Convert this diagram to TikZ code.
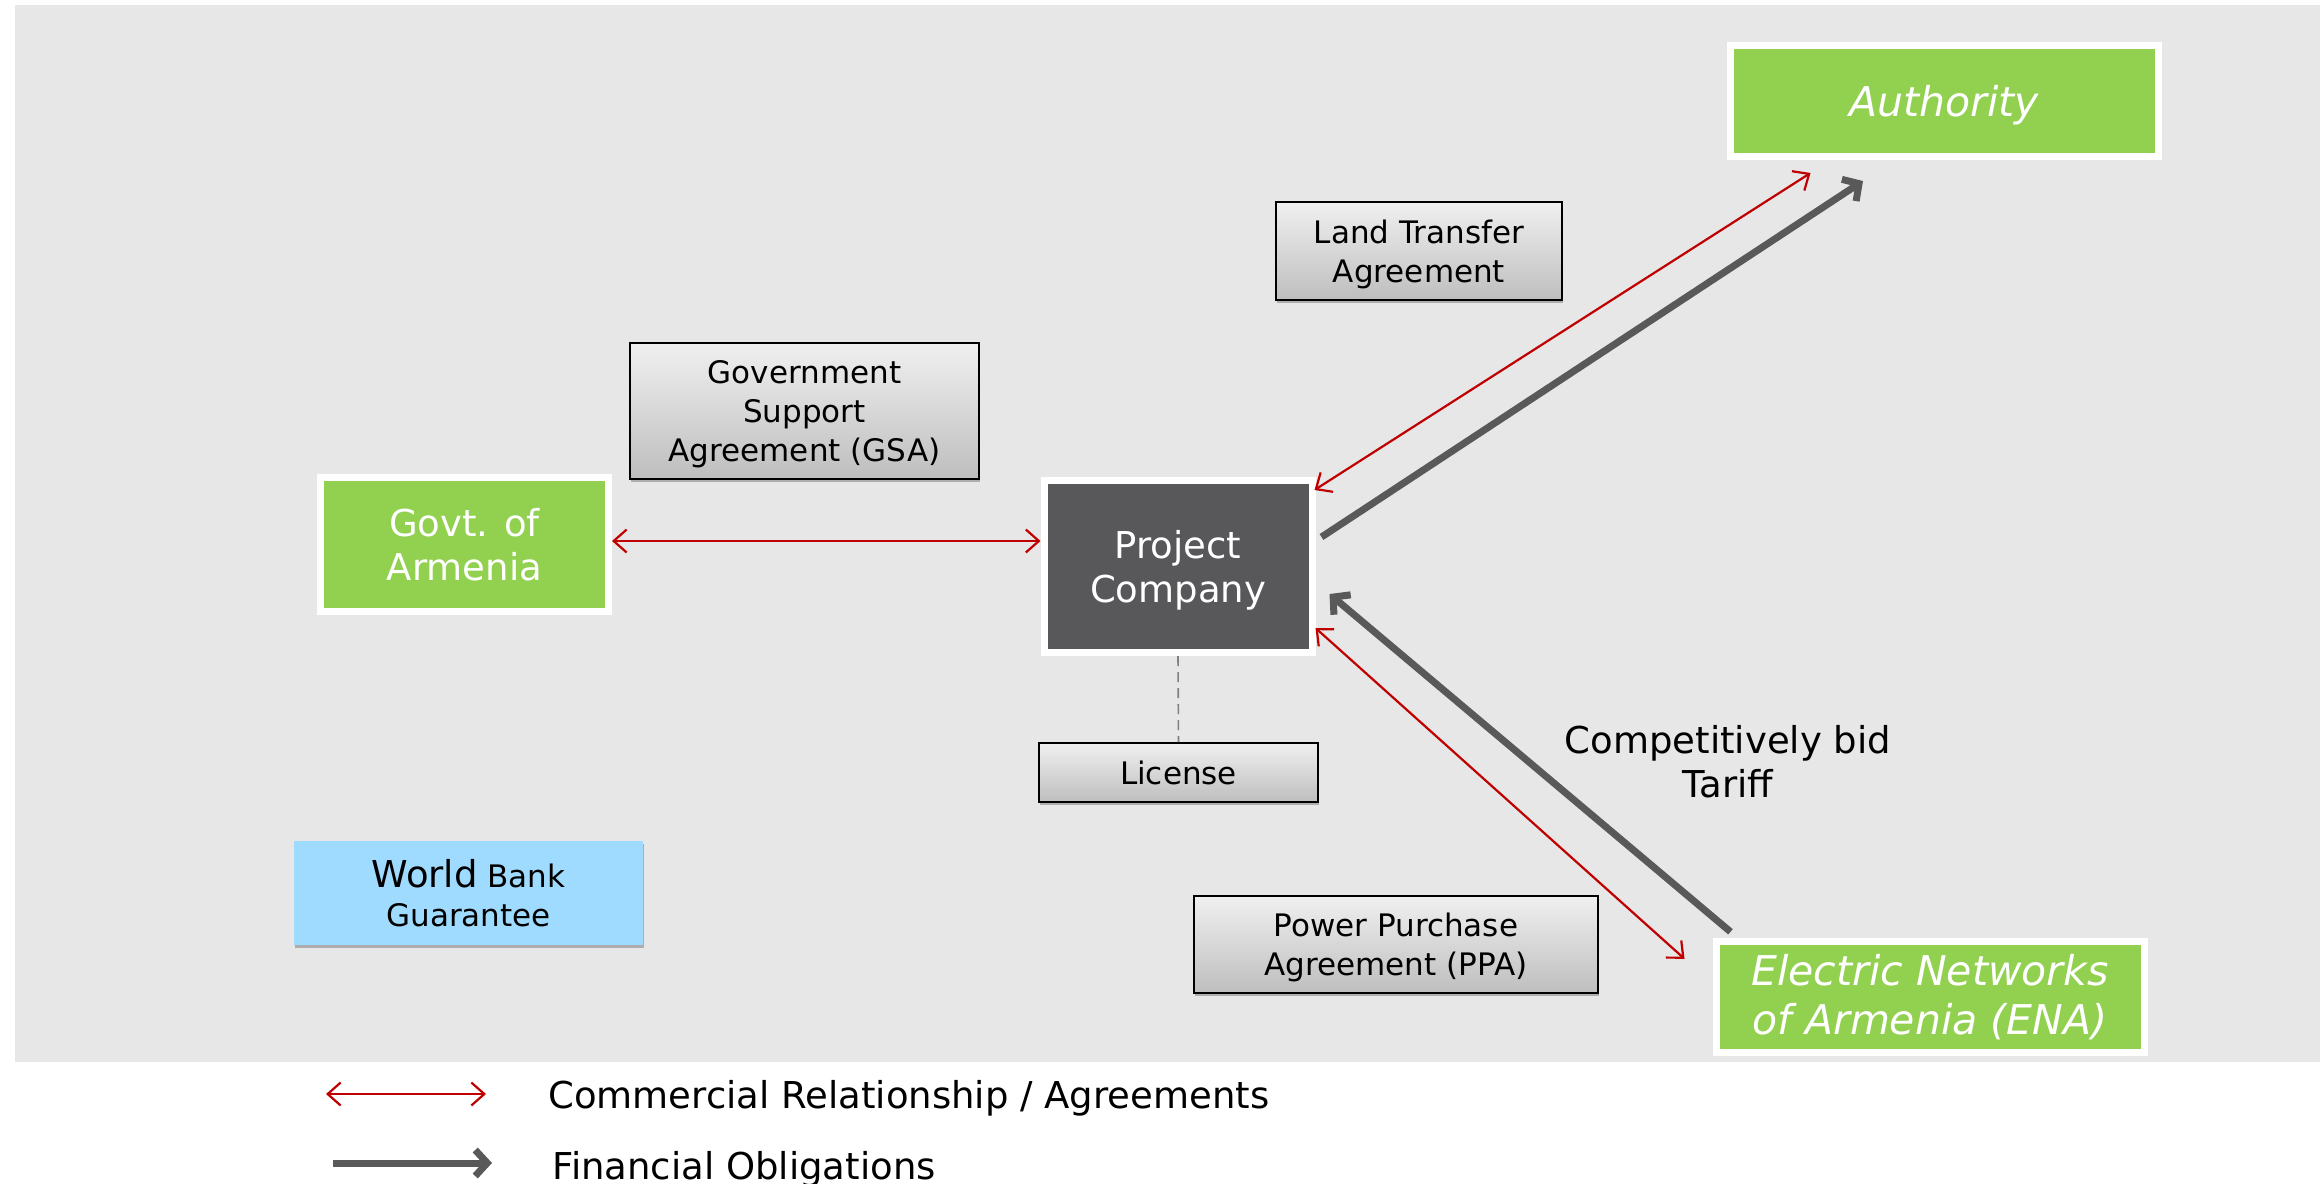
\documentclass[tikz,border=0pt]{standalone}
\usepackage{fontspec}
\setmainfont{DejaVu Sans}
\usetikzlibrary{arrows.meta,shadows}
\definecolor{bggray}{HTML}{E7E7E7}
\definecolor{grn}{HTML}{92D050}
\definecolor{darkbox}{HTML}{58585A}
\definecolor{redarr}{HTML}{C00000}
\definecolor{grayarr}{HTML}{595959}
\definecolor{wbblue}{HTML}{9FDBFE}
\definecolor{boxtop}{HTML}{F0F0F0}
\definecolor{boxbot}{HTML}{BEBEBE}
\begin{document}
\begin{tikzpicture}[x=0.5pt,y=-0.5pt,
  shd/.style={drop shadow={shadow xshift=0.6pt,shadow yshift=-1.6pt,opacity=0.25,fill=black}},
  greenbox/.style={shd,draw=white,line width=3.5pt,fill=grn,text=white,align=center,inner sep=0pt},
  darkbox/.style={shd,draw=white,line width=3.5pt,fill=darkbox,text=white,align=center,inner sep=0pt,
    font=\fontsize{18.5}{22}\selectfont},
  agreebox/.style={shd,draw=black,line width=1pt,top color=boxtop,bottom color=boxbot,align=center,inner sep=0pt,
    text depth=0pt,font=\fontsize{15.5}{19.3}\selectfont},
  comm/.style={draw=redarr,line width=1.1pt,{Straight Barb[length=6.5pt,width=11.5pt]}-{Straight Barb[length=6.5pt,width=11.5pt]}},
  fin/.style={draw=grayarr,line width=3.5pt,-{Straight Barb[length=6pt,width=13pt]}},
  lic/.style={draw=gray,line width=0.8pt,dash pattern=on 5pt off 3pt}
]
\useasboundingbox (0,0) rectangle (2320,1184);
\fill[white] (0,0) rectangle (2320,1184);
\fill[bggray] (15,5) rectangle (2320,1062);

% main nodes
\node[greenbox,minimum width=214pt,minimum height=55.5pt,text depth=0pt,font=\fontsize{20.5}{24.5}\selectfont\itshape]
  (auth) at (1944,101) {Authority};
\node[greenbox,minimum width=144pt,minimum height=67pt,font=\fontsize{18.5}{22}\selectfont]
  (govt) at (464.5,544.5) {Govt. of\\Armenia};
\node[darkbox,minimum width=134pt,minimum height=86pt,text depth=0pt] (proj) at (1178,566.5) {Project\\Company};
\node[greenbox,minimum width=214pt,minimum height=55.7pt,font=\fontsize{20.5}{24.5}\selectfont\itshape]
  (ena) at (1930,997) {Electric Networks\\of Armenia (ENA)};

% agreement boxes
\node[agreebox,minimum width=174.5pt,minimum height=68pt] (gsa) at (804.5,411) {Government\\Support\\Agreement (GSA)};
\node[agreebox,minimum width=143pt,minimum height=49pt] (lta) at (1419,251) {Land Transfer\\Agreement};
\node[agreebox,minimum width=139.5pt,minimum height=29.5pt] (lic) at (1178.5,772.5) {License};
\node[agreebox,minimum width=202pt,minimum height=48.5pt] (ppa) at (1396,944.5) {Power Purchase\\Agreement (PPA)};
\node[shd,fill=wbblue,minimum width=174.5pt,minimum height=52pt,align=center,inner sep=0pt,
  font=\fontsize{15.5}{19.5}\selectfont] (wb) at (468.5,893) {{\fontsize{18.5}{19.5}\selectfont World} Bank\\Guarantee};

\node[align=center,font=\fontsize{18.5}{22}\selectfont] (tariff) at (1728,762) {Competitively bid\\Tariff};

% connectors
\draw[comm] ([shift={(0,-3.5)}]govt.east) coordinate (ga) -- (ga -| proj.west);
\draw[comm] ([shift={(-1,13)}]proj.north east) -- ([shift={(84,13)}]auth.south west);
\draw[fin] ([shift={(6,-29.5)}]proj.east) -- ([shift={(-81,21)}]auth.south);
\draw[fin] ([shift={(18,-6)}]ena.north west) -- ([shift={(14,27.5)}]proj.east);
\draw[comm] ([shift={(0,61.5)}]proj.east) -- ([shift={(-28,21)}]ena.north west);
\draw[lic] (proj.south) -- (lic.north);

% legend
\coordinate (l1a) at (326,1094);
\coordinate (l1b) at (486,1094);
\coordinate (l2a) at (333,1163);
\coordinate (l2b) at (492,1163);
\draw[comm] (l1a) -- (l1b);
\draw[fin] (l2a) -- (l2b);
\node[anchor=base west,inner sep=0pt,font=\fontsize{18.5}{22}\selectfont] (leg1) at (548,1108) {Commercial Relationship / Agreements};
\node[anchor=base west,inner sep=0pt,font=\fontsize{18.5}{22}\selectfont] (leg2) at (552,1179) {Financial Obligations};
\end{tikzpicture}
\end{document}
